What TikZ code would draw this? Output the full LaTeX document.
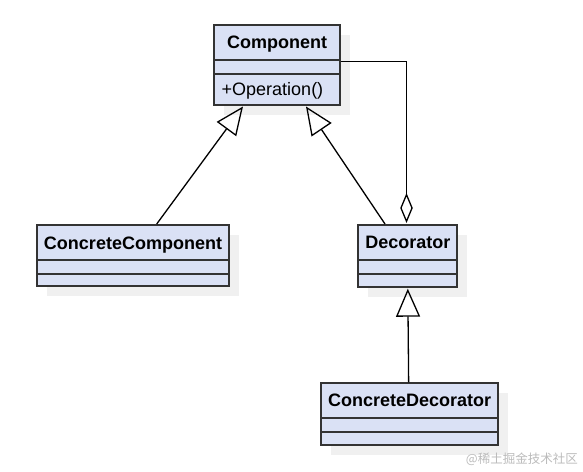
\documentclass[tikz,border=0pt]{standalone}
\usepackage{fontspec}
\setmainfont{Liberation Sans}
\newfontfamily\cjk{Noto Sans CJK SC}
\usetikzlibrary{arrows.meta,calc}
\definecolor{boxfill}{HTML}{DAE1F5}
\definecolor{boxline}{HTML}{333333}
\definecolor{shadowc}{HTML}{F0F0F0}
\definecolor{wmark}{HTML}{BBBBBB}
\tikzset{
  classbox/.style={draw=boxline, line width=2pt, fill=boxfill, rectangle, inner sep=0pt,
    preaction={draw=none, fill=shadowc, transform canvas={xshift=10pt,yshift=-10pt}}},
  divider/.style={draw=boxline, line width=1.7pt},
  title/.style={font=\fontsize{18}{20}\selectfont\bfseries, inner sep=0pt, anchor=base},
  member/.style={font=\fontsize{18}{20}\selectfont, inner sep=0pt, anchor=base west},
  gen/.style={line width=1.3pt, -{Triangle[open, length=28pt, width=24pt, line width=1.3pt]}},
  agg/.style={line width=1.3pt, -{Diamond[open, length=30pt, width=12.5pt, line width=1.3pt]}},
}
\begin{document}
\begin{tikzpicture}[x=1pt, y=-1pt]
\useasboundingbox (0,0) rectangle (583,471);
% Component
\node[classbox, minimum width=126pt, minimum height=79.5pt] (comp) at (277,64.75) {};
\draw[divider] (214,60) -- (340,60) (214,74.3) -- (340,74.3);
\node[title] (compt) at (277,48.3) {Component};
\node[member] (compop) at (221.5,95) {+Operation()};
% ConcreteComponent
\node[classbox, minimum width=192.6pt, minimum height=61pt] (cc) at (133,255.5) {};
\draw[divider] (36.7,260) -- (229.3,260) (36.7,274.3) -- (229.3,274.3);
\node[title] (cct) at (133,249) {ConcreteComponent};
% Decorator
\node[classbox, minimum width=99pt, minimum height=61.7pt] (dec) at (407.8,255.85) {};
\draw[divider] (358.3,260) -- (457.3,260) (358.3,274.3) -- (457.3,274.3);
\node[title] (dect) at (407.8,248.5) {Decorator};
% ConcreteDecorator
\node[classbox, minimum width=177.3pt, minimum height=61.7pt] (cd) at (409.65,414.15) {};
\draw[divider] (321,418.3) -- (498.3,418.3) (321,432.3) -- (498.3,432.3);
\node[title] (cdt) at (409.65,406.7) {ConcreteDecorator};
% connectors
\draw[gen] ([xshift=23.7pt]cc.north) -- ([xshift=-34pt,yshift=-1pt]comp.south);
\draw[gen] ([xshift=-22.8pt]dec.north) -- ([xshift=29pt,yshift=-1pt]comp.south);
\draw[gen] ([xshift=-1pt]cd.north) -- ([yshift=-1pt]dec.south);
\draw[agg] ([yshift=3.25pt]comp.east) -| ([xshift=-1.3pt,yshift=1pt]dec.north);
% watermark
\node[font=\cjk\fontsize{12.5}{14}\selectfont, text=wmark, inner sep=0pt, anchor=east] (wm) at (578,459) {@稀土掘金技术社区};
\end{tikzpicture}
\end{document}
